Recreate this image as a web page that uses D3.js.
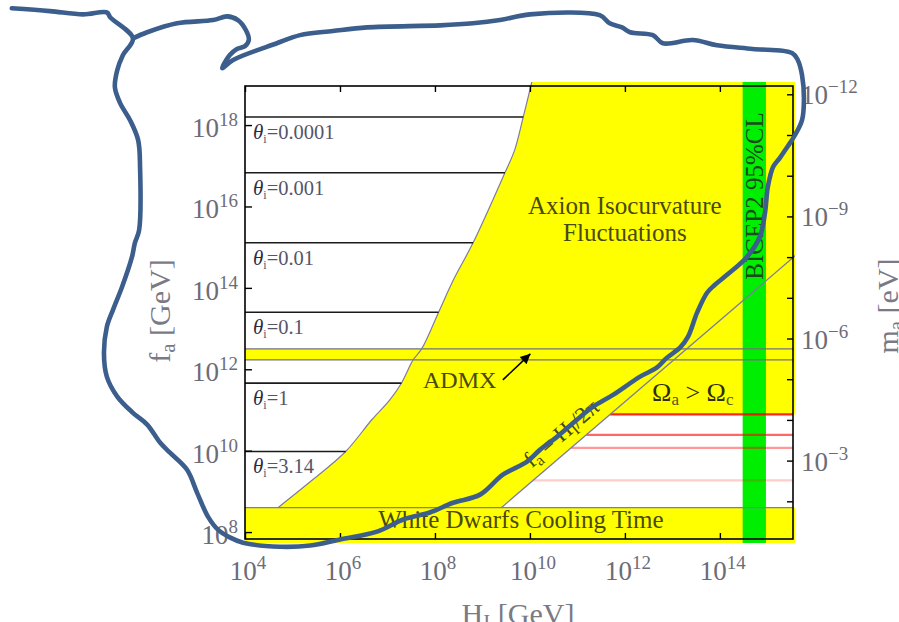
<!DOCTYPE html>
<html>
<head>
<meta charset="utf-8">
<script src="https://cdnjs.cloudflare.com/ajax/libs/d3/7.8.5/d3.min.js"></script>
<style>
body{margin:0;background:#fff;}
svg text{font-family:"Liberation Serif","DejaVu Serif",serif;}
</style>
</head>
<body>
<script>
/////////////////////////////////////////////////////////////////////
// DATA (all values are log10 of the quantity)
/////////////////////////////////////////////////////////////////////
var hTickExp=[4,6,8,10,12,14];            // H_I [GeV]
var fTickExp=[8,10,12,14,16,18];          // f_a [GeV]
var maTickExp=[-12,-11,-10,-9,-8,-7,-6,-5,-4,-3,-2]; // m_a [eV]
var maLabelExp=[-12,-9,-6,-3];

var thetaLabels=["0.0001","0.001","0.01","0.1","1","3.14"];
var thetaLogF=[18.20,16.83,15.11,13.40,11.66,9.98];

// isocurvature boundary (bottom -> top)
var isoLogH=[4.695,5.43,6.12,6.67,7.05,7.30,7.54,7.72,8.08,8.39,8.80,9.47,9.68,9.86,10.04];
var isoLogF=[8.60,9.29,9.98,10.76,11.25,11.67,12.23,12.50,13.41,14.20,15.10,16.82,17.39,18.20,19.06];

var admxLogF=[12.23,12.50];
var wdLogF=8.60;                          // white dwarfs bound
var omegaLogF=[10.89,10.39,10.07,9.27];   // Omega_a = Omega_c lines
var bicepLogH=[14.48,14.97];
var log2pi=Math.log10(2*Math.PI);         // f_a = H_I/2pi

var admxArrowLogH=[9.43,10.01];
var admxArrowLogF=[11.74,12.38];

// hand drawn outline over the figure
var scribbleLogH=[-0.91,-0.11,0.59,1.09,1.16,1.64,1.43,1.31,1.26,1.37,1.58,1.75,1.79,1.77,1.68,1.62,1.41,1.22,1.09,1.03,
  1.09,1.31,1.64,1.94,2.21,2.42,2.78,2.99,3.22,3.43,3.68,3.96,4.74,5.37,6.00,6.78,7.33,7.89,8.38,8.95,
  9.43,9.94,10.21,10.57,10.99,11.33,11.75,12.32,12.67,12.88,13.16,13.33,13.52,13.73,13.89,14.15,14.57,14.84,14.95,15.01,
  15.12,15.26,15.43,15.58,15.73,15.77,15.73,15.64,15.52,14.69,13.94,13.43,12.80,12.59,12.11,11.94,11.68,11.47,10.00,9.37,
  8.80,8.11,6.57,5.85,5.16,4.67,3.75,3.52,3.68,3.83,4.00,4.08,4.02,3.85,3.62,3.33,2.57,1.94,1.64];
var scribbleLogF=[20.87,20.80,20.72,20.77,20.65,20.13,19.72,19.35,18.93,18.54,18.12,17.63,16.97,15.42,15.10,14.76,14.02,13.46,13.04,12.40,
  11.82,11.33,10.93,10.64,10.20,9.95,9.53,8.97,8.38,8.06,7.87,7.74,7.64,7.67,7.82,8.01,8.31,8.48,8.72,8.92,
  9.41,9.73,10.02,10.34,10.76,11.08,11.37,11.82,12.04,12.28,12.53,12.80,13.39,13.88,14.07,14.32,14.76,15.25,15.84,16.48,
  16.97,17.19,17.48,17.75,18.12,18.61,19.23,19.60,19.77,19.87,19.96,20.09,20.01,20.21,20.28,20.40,20.50,20.70,20.72,20.58,
  20.50,20.45,20.40,20.31,20.21,20.01,19.60,19.40,19.72,19.87,19.94,20.09,20.33,20.58,20.67,20.58,20.50,20.28,20.13];

/////////////////////////////////////////////////////////////////////
// SETUP
/////////////////////////////////////////////////////////////////////
var W=899,H=622;
var plotL=245,plotR=793,plotT=86,plotB=539; // frame of the plot
var p10=function(e){return Math.pow(10,e);};

var x=d3.scaleLog().domain([p10(4),p10(15.54)]).range([plotL,plotR]);
var y=d3.scaleLog().domain([p10(7.83),p10(18.96)]).range([plotB,plotT]);
// m_a = 5.7 micro-eV * (1e12 GeV / f_a)
var yMa=d3.scaleLog().domain([5.7e6/p10(7.83),5.7e6/p10(18.96)]).range([plotB,plotT]);
var X=function(e){return x(p10(e));}, Y=function(e){return y(p10(e));};

var labelCol="#6c6c78", olive="#4a4a08", edgeCol="#7c7ca4";
var redShades=["rgba(255,0,0,0.85)","rgba(255,0,0,0.6)","rgba(255,0,0,0.4)","rgba(255,0,0,0.2)"];

var svg=d3.select("body").append("svg").attr("width",W).attr("height",H);
svg.append("rect").attr("width",W).attr("height",H).attr("fill","#fff");

var defs=svg.append("defs");
defs.append("clipPath").attr("id","plotclip")
    .append("rect").attr("x",plotL).attr("y",plotT-4).attr("width",plotR-plotL+2).attr("height",plotB-plotT+8);
defs.append("marker").attr("id","arrowhead").attr("viewBox","0 0 10 10")
    .attr("refX",10).attr("refY",5).attr("markerWidth",13).attr("markerHeight",10)
    .attr("markerUnits","userSpaceOnUse").attr("orient","auto")
    .append("path").attr("d","M0,0L10,5L0,10z").attr("fill","#000");

var plot=svg.append("g").attr("clip-path","url(#plotclip)");

//-------------------------------------------------------------------
// Filled regions
//-------------------------------------------------------------------
var boundary=isoLogH.map(function(h,i){return [X(h),Y(isoLogF[i])];});
var curveLine=d3.line().curve(d3.curveCatmullRom.alpha(0.5));
var rest=[[X(15.8),Y(19.1)],[X(15.8),Y(omegaLogF[0])],
          [X(omegaLogF[0]+log2pi),Y(omegaLogF[0])],[X(wdLogF+log2pi),Y(wdLogF)]];
var yellowPath=curveLine(boundary)+rest.map(function(p){return "L"+p[0]+","+p[1];}).join("")+"Z";
plot.append("path").attr("d",yellowPath).attr("fill","#ffff00");

plot.append("rect").attr("x",plotL).attr("width",plotR-plotL+2)
    .attr("y",Y(admxLogF[1])).attr("height",Y(admxLogF[0])-Y(admxLogF[1])).attr("fill","#ffff00");
plot.append("rect").attr("x",plotL).attr("width",plotR-plotL+2)
    .attr("y",Y(wdLogF)).attr("height",plotB+4-Y(wdLogF)).attr("fill","#ffff00");

plot.append("rect").attr("x",X(bicepLogH[0])).attr("width",X(bicepLogH[1])-X(bicepLogH[0]))
    .attr("y",plotT-4).attr("height",plotB-plotT+8).attr("fill","#00ee00");

// Omega_a > Omega_c lines
omegaLogF.forEach(function(f,i){
   plot.append("line").attr("x1",X(f+log2pi)).attr("x2",plotR).attr("y1",Y(f)).attr("y2",Y(f))
       .attr("stroke",redShades[i]).attr("stroke-width",2.2);
});

//-------------------------------------------------------------------
// Edge lines
//-------------------------------------------------------------------
admxLogF.forEach(function(f){
   plot.append("line").attr("x1",plotL).attr("x2",plotR).attr("y1",Y(f)).attr("y2",Y(f))
       .attr("stroke","#70707e").attr("stroke-width",1.3);
});
plot.append("line").attr("x1",plotL).attr("x2",plotR).attr("y1",Y(wdLogF)).attr("y2",Y(wdLogF))
    .attr("stroke",edgeCol).attr("stroke-width",1.3);
plot.append("line").attr("x1",X(wdLogF+log2pi)).attr("y1",Y(wdLogF))
    .attr("x2",X(16+log2pi)).attr("y2",Y(16))
    .attr("stroke",edgeCol).attr("stroke-width",1.3);
plot.append("path").attr("d",curveLine(boundary)).attr("fill","none")
    .attr("stroke",edgeCol).attr("stroke-width",1.2);

// theta_i lines, ending on the isocurvature boundary
var isoInterp=d3.scaleLinear().domain(isoLogF).range(isoLogH);
thetaLogF.forEach(function(f,i){
   plot.append("line").attr("x1",plotL).attr("x2",X(isoInterp(f))).attr("y1",Y(f)).attr("y2",Y(f))
       .attr("stroke","#1a1a1a").attr("stroke-width",1.6);
   var t=svg.append("text").attr("x",plotL+8).attr("y",Y(f)+22).attr("font-size","20.5px").attr("fill","#55556a");
   t.append("tspan").text("\u03b8").attr("font-style","italic").attr("font-size","21px").attr("fill","#2c2c40");
   t.append("tspan").text("i").attr("font-size","12px").attr("dy",4);
   t.append("tspan").text("="+thetaLabels[i]).attr("dy",-4);
});

//-------------------------------------------------------------------
// Frame and ticks
//-------------------------------------------------------------------
var tickStyle=function(g){
   g.select(".domain").remove();
   g.selectAll(".tick line").attr("stroke","#000").attr("stroke-width",1.4);
};
svg.append("g").attr("transform","translate(0,"+plotB+")")
   .call(d3.axisBottom(x).tickValues(hTickExp.map(p10)).tickSize(-6).tickFormat("")).call(tickStyle);
svg.append("g").attr("transform","translate(0,"+plotT+")")
   .call(d3.axisTop(x).tickValues(hTickExp.map(p10)).tickSize(-6).tickFormat("")).call(tickStyle);
svg.append("g").attr("transform","translate("+plotL+",0)")
   .call(d3.axisLeft(y).tickValues(fTickExp.map(p10)).tickSize(-7).tickFormat("")).call(tickStyle);
svg.append("g").attr("transform","translate("+plotR+",0)")
   .call(d3.axisRight(yMa).tickValues(maTickExp.map(p10)).tickSize(-6).tickFormat("")).call(tickStyle);
svg.append("rect").attr("x",plotL).attr("y",plotT).attr("width",plotR-plotL).attr("height",plotB-plotT)
   .attr("fill","none").attr("stroke","#000").attr("stroke-width",1.6);

// power-of-ten labels
var powLabel=function(px,py,exp,anchor){
   var t=svg.append("text").attr("x",px).attr("y",py).attr("text-anchor",anchor)
            .attr("fill",labelCol).attr("font-size","27px");
   t.append("tspan").text("10");
   t.append("tspan").text(String(exp).replace("-","\u2212")).attr("font-size","19px").attr("dy",-11);
};
hTickExp.forEach(function(e){powLabel(X(e)+3,plotB+41,e,"middle");});
fTickExp.forEach(function(e){powLabel(238,Y(e)+12,e,"end");});
maLabelExp.forEach(function(e){powLabel(801,yMa(p10(e))+10,e,"start");});

// axis titles
var t=svg.append("text").attr("transform","translate(170,311) rotate(-90)").attr("text-anchor","middle")
         .attr("fill","#7a7a86").attr("font-size","30px");
t.append("tspan").text("f");
t.append("tspan").text("a").attr("font-size","21px").attr("dy",5);
t.append("tspan").text(" [GeV]").attr("dy",-5);

t=svg.append("text").attr("x",518).attr("y",624).attr("text-anchor","middle")
     .attr("fill","#7a7a86").attr("font-size","30px");
t.append("tspan").text("H");
t.append("tspan").text("I").attr("font-size","21px").attr("dy",5);
t.append("tspan").text(" [GeV]").attr("dy",-5);

t=svg.append("text").attr("transform","translate(898,306) rotate(-90)").attr("text-anchor","middle")
     .attr("fill","#7a7a86").attr("font-size","30px");
t.append("tspan").text("m");
t.append("tspan").text("a").attr("font-size","21px").attr("dy",5);
t.append("tspan").text(" [eV]").attr("dy",-5);

//-------------------------------------------------------------------
// Region labels
//-------------------------------------------------------------------
svg.append("text").attr("x",X(12.0)).attr("y",Y(15.82)).attr("text-anchor","middle")
   .attr("fill",olive).attr("font-size","25px").text("Axion Isocurvature");
svg.append("text").attr("x",X(12.0)).attr("y",Y(15.14)).attr("text-anchor","middle")
   .attr("fill",olive).attr("font-size","25px").text("Fluctuations");
svg.append("text").attr("x",X(9.81)).attr("y",Y(wdLogF)+20).attr("text-anchor","middle")
   .attr("fill",olive).attr("font-size","25px").text("White Dwarfs Cooling Time");
svg.append("text").attr("x",X(8.52)).attr("y",Y(11.75)+9).attr("text-anchor","middle")
   .attr("fill",olive).attr("font-size","24px").text("ADMX");

svg.append("line").attr("x1",X(admxArrowLogH[0])).attr("y1",Y(admxArrowLogF[0]))
   .attr("x2",X(admxArrowLogH[1])).attr("y2",Y(admxArrowLogF[1]))
   .attr("stroke","#000").attr("stroke-width",1.6).attr("marker-end","url(#arrowhead)");

t=svg.append("text").attr("x",X(13.43)).attr("y",Y(omegaLogF[0])-13).attr("text-anchor","middle")
     .attr("fill","#2e2e06").attr("font-size","26px");
t.append("tspan").text("\u03a9");
t.append("tspan").text("a").attr("font-size","17px").attr("dy",4).attr("fill","#55551a");
t.append("tspan").text(" > \u03a9").attr("dy",-4);
t.append("tspan").text("c").attr("font-size","17px").attr("dy",4).attr("fill","#55551a");

// f_a = H_I/2pi along the diagonal
var ang=Math.atan2(Y(12)-Y(10),X(12+log2pi)-X(10+log2pi))*180/Math.PI;
t=svg.append("text").attr("transform","translate("+X(10.9)+","+Y(10.9-log2pi)+") rotate("+ang+")")
     .attr("y",-10).attr("text-anchor","middle").attr("fill",olive).attr("font-size","23px");
t.append("tspan").text("f");
t.append("tspan").text("a").attr("font-size","16px").attr("dy",4);
t.append("tspan").text(" = H").attr("dy",-4);
t.append("tspan").text("I").attr("font-size","16px").attr("dy",4);
t.append("tspan").text("/2\u03c0").attr("dy",-4);

svg.append("text").attr("transform","translate("+(X(bicepLogH[0])+X(bicepLogH[1]))/2+",196) rotate(-90)")
   .attr("text-anchor","middle").attr("dy","0.35em").attr("fill","#1d4a1d").attr("font-size","25px")
   .text("BICEP2 95%CL");

//-------------------------------------------------------------------
// Hand drawn outline
//-------------------------------------------------------------------
var scribble=scribbleLogH.map(function(h,i){return [X(h),Y(scribbleLogF[i])];});
svg.append("path").attr("d",d3.line().curve(d3.curveCatmullRom.alpha(0.5))(scribble))
   .attr("fill","none").attr("stroke","#3b5e8c").attr("stroke-width",4.6)
   .attr("stroke-linecap","round").attr("stroke-linejoin","round");
</script>
</body>
</html>
